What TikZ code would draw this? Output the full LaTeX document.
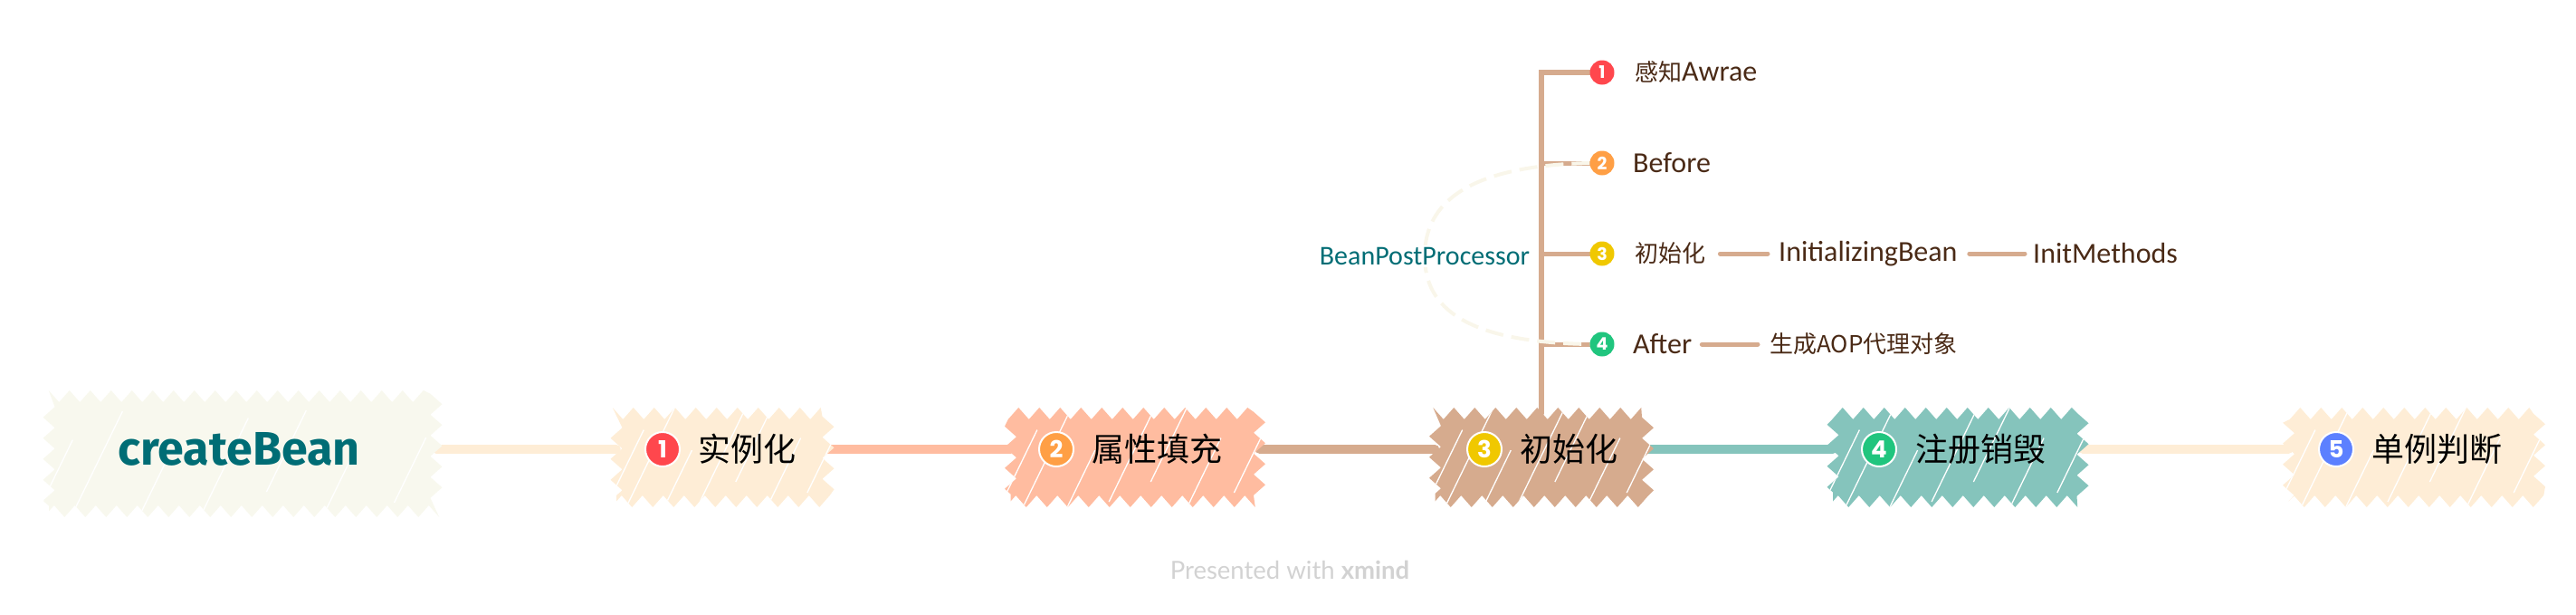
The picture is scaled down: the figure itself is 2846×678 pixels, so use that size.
\documentclass[tikz,border=0pt]{standalone}
\usepackage{fontspec}
\setmainfont{Carlito}
\newfontfamily\cjk{Noto Sans CJK SC}
\newfontfamily\rootfont{Fira Sans}
\newfontfamily\badgefont{Poppins}
\newfontfamily\markfont{Lato}
\usetikzlibrary{arrows.meta, positioning, calc, backgrounds, decorations.pathmorphing}
\definecolor{cream}{HTML}{F8F8EE}
\definecolor{peach}{HTML}{FEEDD6}
\definecolor{salmon}{HTML}{FFBCA0}
\definecolor{tan2}{HTML}{D6AB8E}
\definecolor{teal3}{HTML}{85C4BC}
\definecolor{deepteal}{HTML}{006D75}
\definecolor{brown2}{HTML}{4A2A16}
\definecolor{badgered}{HTML}{FF474D}
\definecolor{badgeorange}{HTML}{FF9F45}
\definecolor{badgeyellow}{HTML}{F0C800}
\definecolor{badgegreen}{HTML}{20C57E}
\definecolor{badgeblue}{HTML}{5C80FF}
\definecolor{watermark}{HTML}{D2D2D2}
\tikzset{
  scribble/.style={rectangle, fill=#1, inner sep=0pt, minimum height=97pt, decorate,
    decoration={zigzag, segment length=23pt, amplitude=6.5pt},
    path picture={
      \foreach \sx/\sy/\len in {-.02/0/95, .07/0/130, .24/0/70, .4/6/115, .56/28/100, .7/0/85, .88/16/80}{
        \draw[white, line width=1.3pt]
          ($(path picture bounding box.south west)!\sx!(path picture bounding box.south east)+(0,\sy pt)$) -- ++(64:\len pt);
      }}},
  topic/.style={font=\fontsize{36}{40}\selectfont\cjk, text=black, inner sep=0pt, anchor=west},
  badge/.style={circle, fill=#1, draw=white, line width=2pt, minimum size=38pt, inner sep=0pt,
    text=white, font=\fontsize{26}{26}\selectfont\badgefont\bfseries},
  subbadge/.style={circle, fill=#1, minimum size=27pt, inner sep=0pt,
    text=white, font=\fontsize{19}{19}\selectfont\badgefont\bfseries},
  sublabel/.style={font=\fontsize{32}{34}\selectfont, text=brown2, inner sep=0pt, anchor=west},
  subcjk/.style={font=\fontsize{26}{30}\selectfont\cjk, text=brown2},
  mainlink/.style={line width=10pt, line cap=round, #1},
  sublink/.style={line width=5pt, line cap=round, tan2},
  trunk/.style={line width=6pt, line cap=round, tan2},
  grouping/.style={line width=4pt, cream!85!peach, dashed, dash pattern=on 20pt off 9pt},
}
\begin{document}
\begin{tikzpicture}[x=1pt,y=-1pt]
\useasboundingbox (0,0) rectangle (2846,678);
% main row
\node[scribble=cream, minimum width=428pt, minimum height=127pt] (rootbox) at (268,501) {};
\node[scribble=peach, minimum width=234pt] (instbox) at (798,505) {};
\node[scribble=salmon, minimum width=275pt] (attrbox) at (1254,505) {};
\node[scribble=tan2, minimum width=235pt] (initbox) at (1703,505) {};
\node[scribble=teal3, minimum width=276pt] (destroybox) at (2163,505) {};
\node[scribble=peach, minimum width=277pt] (singlebox) at (2667,505) {};

\node[font=\fontsize{52}{54}\selectfont\rootfont\bfseries, text=deepteal, inner sep=0pt] (rootlabel) at (264,496) {createBean};

\node[badge=badgered] (instno) at (732,496) {1};
\node[topic] (instlabel) at (771,496) {实例化};
\node[badge=badgeorange] (attrno) at (1167,496) {2};
\node[topic] (attrlabel) at (1206,496) {属性填充};
\node[badge=badgeyellow] (initno) at (1640,496) {3};
\node[topic] (initlabel) at (1679,496) {初始化};
\node[badge=badgegreen] (destroyno) at (2076,496) {4};
\node[topic] (destroylabel) at (2116,496) {注册销毁};
\node[badge=badgeblue] (singleno) at (2581,496) {5};
\node[topic] (singlelabel) at (2620,496) {单例判断};

% children of the third step
\node[subbadge=badgered] (awareno) at (1770,80) {1};
\node[sublabel] (awarelabel) at (1806,80) {{\cjk\fontsize{26}{30}\selectfont 感知}Awrae};
\node[subbadge=badgeorange] (beforeno) at (1770,180) {2};
\node[sublabel] (beforelabel) at (1804,180) {Before};
\node[subbadge=badgeyellow] (callno) at (1770,280) {3};
\node[sublabel, subcjk] (calllabel) at (1806,280) {初始化};
\node[sublabel] (ibean) at (1965,280) {InitializingBean};
\node[sublabel] (imethods) at (2246,280) {InitMethods};
\node[subbadge=badgegreen] (afterno) at (1770,380) {4};
\node[sublabel] (afterlabel) at (1804,380) {After};
\node[sublabel, subcjk] (aop) at (1955,380) {生成AOP代理对象};

\node[font=\fontsize{30}{32}\selectfont, text=deepteal, fill=white, inner sep=2pt] (bpp) at (1574,283) {BeanPostProcessor};

\node[font=\fontsize{27.5}{29}\selectfont\markfont, text=watermark, inner sep=0pt] (mark) at (1425,629) {Presented with \textbf{xmind}};

\begin{scope}[on background layer]
\draw[mainlink=peach] (rootbox.east |- rootlabel) -- (instbox.west |- instno);
\draw[mainlink=salmon] (instbox.east |- instno) -- (attrbox.west |- attrno);
\draw[mainlink=tan2] (attrbox.east |- attrno) -- (initbox.west |- initno);
\draw[mainlink=teal3] (initbox.east |- initno) -- (destroybox.west |- destroyno);
\draw[mainlink=peach] (destroybox.east |- destroyno) -- (singlebox.west |- singleno);

\draw[trunk] (initbox.north) |- (awareno.west);
\draw[sublink] (initbox.north |- beforeno) -- (beforeno.west);
\draw[sublink] (initbox.north |- callno) -- (callno.west);
\draw[sublink] (initbox.north |- afterno) -- (afterno.west);
\draw[sublink] (calllabel.east) ++(16,0) -- ($(ibean.west)+(-12,0)$);
\draw[sublink] (ibean.east) ++(13,0) -- ($(imethods.west)+(-9,0)$);
\draw[sublink] (afterlabel.east) ++(11,0) -- ($(aop.west)+(-13,0)$);

\draw[grouping] (beforeno.west) .. controls (1620,183) and (1574,225) .. (bpp.center)
  .. controls (1574,340) and (1620,378) .. (afterno.west);
\end{scope}
\end{tikzpicture}
\end{document}
